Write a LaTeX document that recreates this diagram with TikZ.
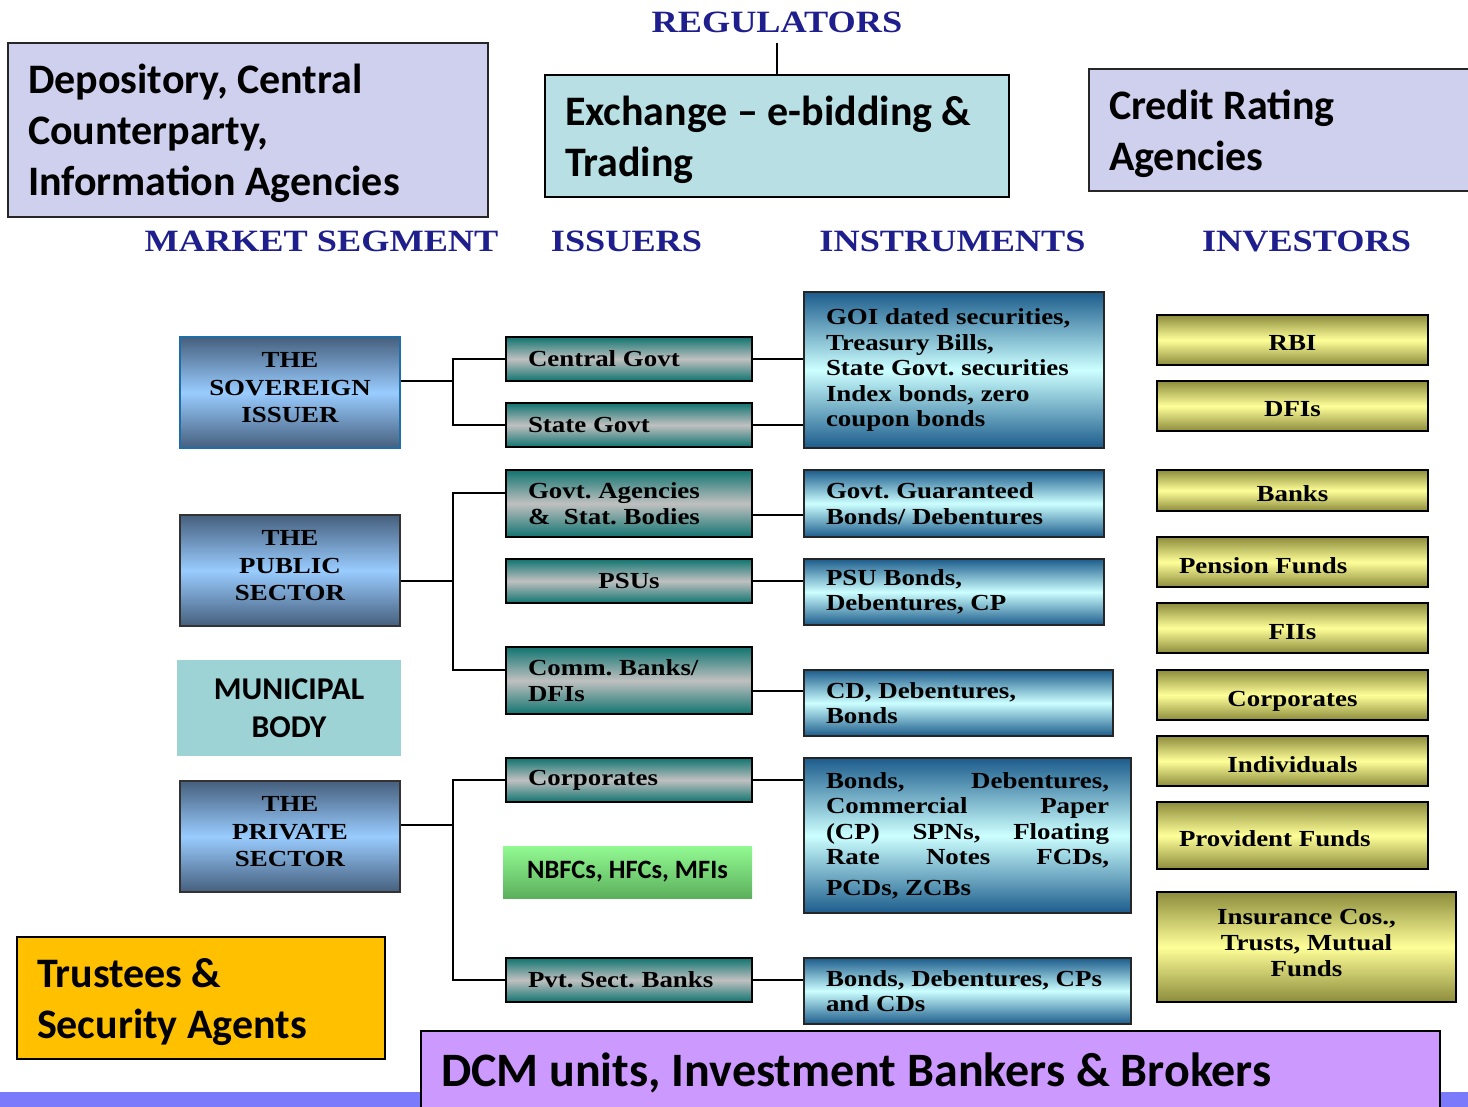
\documentclass[tikz,border=0pt]{standalone}
\usepackage[rgb]{xcolor}
\usepackage{fontspec}
\usepackage{tikz}

\newfontfamily\calibri{Carlito}
\newfontfamily\stretchserif[FakeStretch=1.17]{Liberation Serif}
\frenchspacing

\definecolor{headnavy}{RGB}{30,30,140}
\definecolor{lavender}{RGB}{207,207,238}
\definecolor{exchteal}{RGB}{184,224,228}
\definecolor{munteal}{RGB}{158,211,214}
\definecolor{trustgold}{RGB}{255,192,0}
\definecolor{dcmpurple}{RGB}{204,153,255}
\definecolor{stripblue}{RGB}{122,122,250}
\definecolor{segdark}{RGB}{70,95,125}
\definecolor{seglight}{RGB}{153,204,255}
\definecolor{segblue}{RGB}{30,110,170}
\definecolor{issdark}{RGB}{16,116,112}
\definecolor{issgray}{RGB}{192,192,192}
\definecolor{instdark}{RGB}{28,92,140}
\definecolor{instlight}{RGB}{204,255,255}
\definecolor{invdark}{RGB}{140,140,60}
\definecolor{invlight}{RGB}{255,255,153}
\definecolor{nbfctop}{RGB}{146,250,146}
\definecolor{nbfcbot}{RGB}{92,176,92}

\begin{document}
\begin{tikzpicture}[x=1pt, y=-1pt,
  bigbox/.style={draw=black!85, line width=1.5pt, inner xsep=20pt, inner ysep=0pt,
    text depth=51pt, align=flush left, font=\calibri\bfseries\fontsize{42}{51}\selectfont},
  heading/.style={text=headnavy, inner sep=0pt,
    font=\stretchserif\bfseries\fontsize{31}{36}\selectfont},
  segbox/.style={draw=black!80, line width=1.5pt, top color=segdark,
    bottom color=segdark, middle color=seglight, minimum width=220pt,
    minimum height=111pt, inner sep=0pt, text depth=10pt, align=center,
    font=\stretchserif\bfseries\fontsize{23}{27.5}\selectfont},
  issbox/.style={draw=black, line width=1.5pt, top color=issdark,
    bottom color=issdark, middle color=issgray, text width=202pt,
    inner xsep=22pt, inner ysep=0pt, minimum height=44pt, align=flush left,
    font=\stretchserif\bfseries\fontsize{23}{25.5}\selectfont},
  instbox/.style={draw=black!85, line width=1.5pt, top color=instdark,
    bottom color=instdark, middle color=instlight, inner xsep=22pt,
    inner ysep=0pt, align=flush left,
    font=\stretchserif\bfseries\fontsize{23}{25.5}\selectfont},
  invbox/.style={draw=black, line width=1.5pt, top color=invdark,
    bottom color=invdark, middle color=invlight, text width=227pt,
    inner xsep=22pt, inner ysep=0pt, minimum height=50pt, align=flush center,
    text height=22pt, text depth=0pt,
    font=\stretchserif\bfseries\fontsize{23}{26}\selectfont},
  conn/.style={line width=1.4pt}
]

\useasboundingbox (0,0) rectangle (1468,1107);

% agencies round the market, top row
\path (248,130) node[bigbox, fill=lavender, text width=440pt, minimum height=174pt, text depth=102pt] (depository)
  {Depository, Central\\ Counterparty,\\ Information Agencies};
\path (777,136) node[bigbox, fill=exchteal, draw=black, text width=424pt, minimum height=122pt] (exchange)
  {Exchange – e-bidding \&\\ Trading};
\path (1284.5,130) node[bigbox, fill=lavender, text width=351pt, minimum height=122pt] (credit)
  {Credit Rating\\ Agencies};

% column headings
\path (777,22.5) node[heading, inner ysep=10pt] (regulators) {REGULATORS};
\draw[conn] (regulators) -- (exchange);
\foreach \nm/\xx/\txt in {segment/321.5/MARKET SEGMENT, issuers/626.5/ISSUERS,
    instruments/952.5/INSTRUMENTS, investors/1306.5/INVESTORS}
  \path (\xx,241) node[heading] (\nm) {\txt};

% market segments
\path
(290,392.5) node[segbox, draw=segblue] (sovereign) {THE\\ SOVEREIGN\\ ISSUER}
(290,570.5) node[segbox] (public) {THE\\ PUBLIC\\ SECTOR}
(290,836.5) node[segbox] (private) {THE\\ PRIVATE\\ SECTOR};
\path (289,708) node[fill=munteal, minimum width=224pt, minimum height=96pt, inner sep=0pt,
  align=center, font=\calibri\bfseries\fontsize{31.7}{38}\selectfont] (municipal) {MUNICIPAL\\ BODY};

% issuers
\path
(629,359) node[issbox] (central) {Central Govt}
(629,425) node[issbox] (stategovt) {State Govt}
(629,503.5) node[issbox, minimum height=67pt] (agencies) {Govt. Agencies\\ \& \ Stat. Bodies}
(629,581) node[issbox, align=flush center] (psus) {PSUs}
(629,680.5) node[issbox, minimum height=67pt] (commbanks) {Comm. Banks/\\ DFIs}
(629,780) node[issbox] (corpissuer) {Corporates}
(629,980) node[issbox] (pvtbanks) {Pvt. Sect. Banks};
\path (627.5,872) node[top color=nbfctop, bottom color=nbfcbot, minimum width=249pt, minimum height=52pt,
  font=\calibri\bfseries\fontsize{26.5}{30}\selectfont] (nbfc) {NBFCs, HFCs, MFIs};

% instruments
\path
(954,370) node[instbox, text width=256pt, minimum height=156pt] (goi)
  {GOI dated securities,\\ Treasury Bills,\\ State Govt. securities\\ Index bonds, zero\\ coupon bonds}
(954,503.5) node[instbox, text width=256pt, minimum height=67pt] (guaranteed)
  {Govt. Guaranteed\\ Bonds/ Debentures}
(954,592) node[instbox, text width=256pt, minimum height=66pt] (psubonds)
  {PSU Bonds,\\ Debentures, CP}
(958.5,703) node[instbox, text width=265pt, minimum height=66pt] (cdbonds)
  {CD, Debentures,\\ Bonds}
(967.5,835.5) node[instbox, text width=283pt, minimum height=155pt] (corpbonds)
  {Bonds,\hfill Debentures,\\ Commercial\hfill Paper\\ (CP)\hfill SPNs,\hfill Floating\\
   Rate\hfill Notes\hfill FCDs,\\[5pt] PCDs, ZCBs}
(967.5,991) node[instbox, text width=283pt, minimum height=66pt] (pvtbonds)
  {Bonds, Debentures, CPs\\ and CDs};

% investors
\foreach \nm/\yy/\txt in {rbi/340/RBI, dfis/406/DFIs, fiis/628/FIIs,
    corpinv/695/Corporates, individuals/761/Individuals}
  \path (1292.5,\yy) node[invbox] (\nm) {\txt};
\path
(1292.5,490.5) node[invbox, minimum height=41pt] (banks) {Banks}
(1292.5,562) node[invbox, align=flush left] (pension) {Pension Funds}
(1292.5,835.5) node[invbox, align=flush left, minimum height=67pt] (provident) {Provident Funds}
(1306.5,947) node[invbox, text width=255pt, minimum height=110pt, text height=16pt, text depth=62pt] (insurance)
  {Insurance Cos.,\\ Trusts, Mutual\\ Funds};

% segment forks to issuers
\coordinate (sovfork) at (453,381);
\draw[conn] (sovereign.east |- sovfork) -- (sovfork);
\draw[conn] (central.west) -| (sovfork) |- (stategovt.west);

\coordinate (pubfork) at (453,581);
\draw[conn] (public.east |- pubfork) -- (pubfork);
\draw[conn] (agencies.west |- 0,493) -| (pubfork) |- (commbanks.west |- 0,670);

\coordinate (prvfork) at (453,825);
\draw[conn] (private.east |- prvfork) -- (prvfork);
\draw[conn] (corpissuer.west) -| (prvfork) |- (pvtbanks.west);

% issuers to instruments
\foreach \a/\b in {central/goi, stategovt/goi, psus/psubonds, corpissuer/corpbonds, pvtbanks/pvtbonds}
  \draw[conn] (\a.east) -- (\a.east -| \b.west);
\draw[conn] (agencies.east |- 0,515) -- (guaranteed.west |- 0,515);
\draw[conn] (commbanks.east |- 0,691) -- (cdbonds.west |- 0,691);

% bottom row
\path (201,998) node[bigbox, fill=trustgold, draw=black, text width=328pt, minimum height=122pt] (trustees)
  {Trustees \&\\ Security Agents};
\fill[stripblue] (0,1092) rectangle (1468,1107);
\path (930.5,1073) node[bigbox, fill=dcmpurple, draw=black, text width=979pt, minimum height=84pt,
  text depth=6pt, font=\calibri\bfseries\fontsize{48}{55}\selectfont] (dcm) {DCM units, Investment Bankers \& Brokers};

\end{tikzpicture}
\end{document}
